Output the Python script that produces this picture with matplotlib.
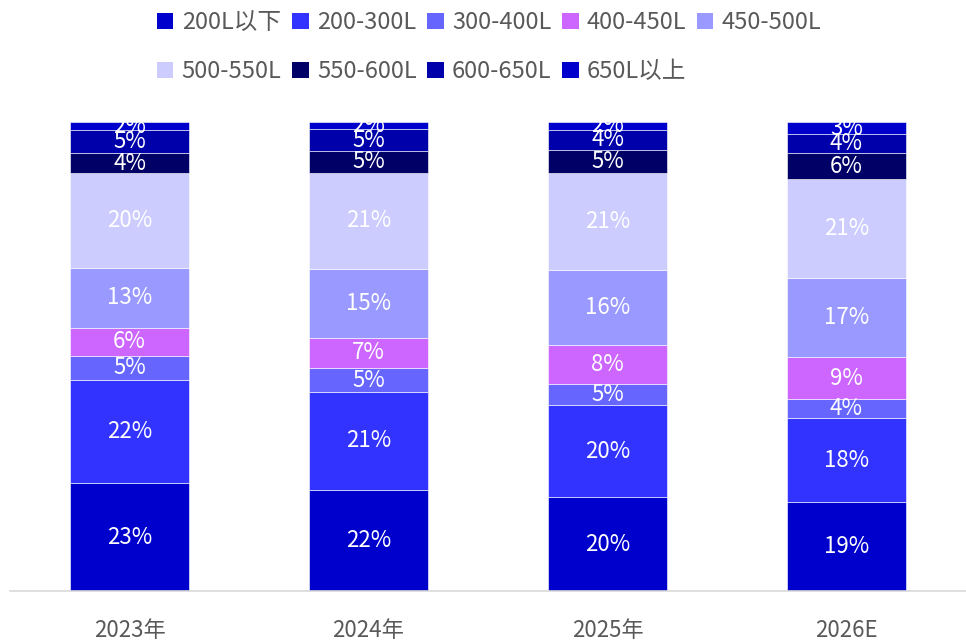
import matplotlib
matplotlib.use("Agg")
import matplotlib.pyplot as plt
from matplotlib.patches import Patch
import numpy as np

plt.rcParams['font.family'] = ['Noto Sans CJK SC', 'DejaVu Sans']

years = ["2023年", "2024年", "2025年", "2026E"]
segments = ["200L以下", "200-300L", "300-400L", "400-450L", "450-500L",
            "500-550L", "550-600L", "600-650L", "650L以上"]
colors = ["#0000CC", "#3333FF", "#6666FF", "#CC66FF", "#9999FF",
          "#CCCCFF", "#000066", "#0000AA", "#0000CC"]
# share (%) per segment, per year
v_200_below = [23.0, 21.6, 20.0, 19.0]
v_200_300 = [22.0, 20.9, 19.6, 17.9]
v_300_400 = [5.1, 5.0, 4.6, 4.1]
v_400_450 = [6.0, 6.6, 8.2, 8.9]
v_450_500 = [12.8, 14.6, 16.0, 17.0]
v_500_550 = [20.3, 20.6, 20.8, 21.0]
v_550_600 = [4.1, 4.6, 4.9, 5.6]
v_600_650 = [4.9, 4.6, 4.2, 4.0]
v_650_above = [1.8, 1.6, 1.7, 2.6]

data = np.array([v_200_below, v_200_300, v_300_400, v_400_450, v_450_500,
                 v_500_550, v_550_600, v_600_650, v_650_above])
heights = data / data.sum(axis=0) * 100

fig = plt.figure(figsize=(9.66, 6.42), dpi=100)
ax = fig.add_axes([10/966, (642-591)/642, 956/966, (591-122)/642])
x = np.arange(len(years))
bottom = np.zeros(len(years))
for i, seg in enumerate(segments):
    ax.bar(x, heights[i], 0.5, bottom=bottom, color=colors[i],
           edgecolor='white', linewidth=0.4, label=seg, zorder=2)
    for j in range(len(years)):
        ax.text(x[j], bottom[j] + heights[i][j] / 2, f"{data[i][j]:.0f}%",
                ha='center', va='center', color='white', fontsize=16,
                clip_on=True, zorder=3)
    bottom += heights[i]

ax.set_xlim(-0.5, 3.5)
ax.set_ylim(0, 100)
ax.set_yticks([])
ax.set_xticks(x)
ax.set_xticklabels(years, fontsize=16, color='#595959')
ax.tick_params(axis='x', length=0, pad=20)
for s in ['top', 'right', 'left']:
    ax.spines[s].set_visible(False)
ax.spines['bottom'].set_color('#D9D9D9')
ax.spines['bottom'].set_linewidth(1.2)

handles = [Patch(facecolor=c, edgecolor='none') for c in colors]
order = [0, 5, 1, 6, 2, 7, 3, 8, 4]
fig.legend([handles[k] for k in order], [segments[k] for k in order],
           ncol=5, loc='upper left', bbox_to_anchor=(138/966, 1.012),
           frameon=False, fontsize=17, handlelength=0.7, handleheight=0.7,
           handletextpad=0.35, columnspacing=0.45, labelspacing=1.1,
           borderpad=0.3, labelcolor='#595959')

fig.savefig("out.png", dpi=100)
